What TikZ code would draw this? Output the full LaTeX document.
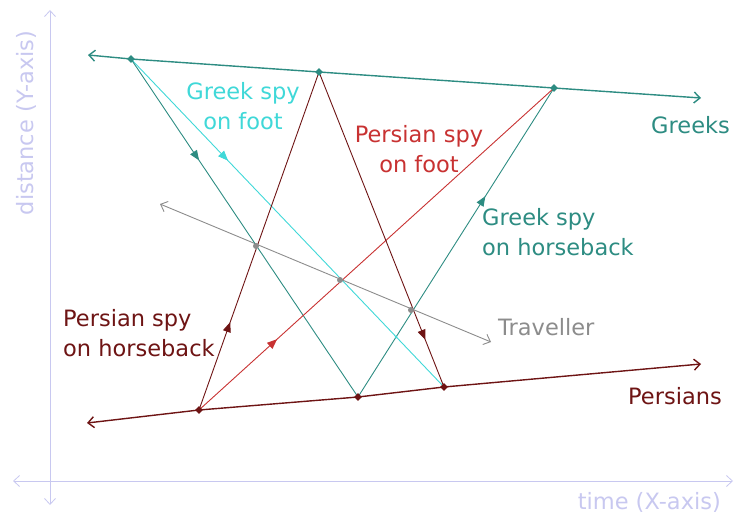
\documentclass[tikz,border=0pt]{standalone}
\usepackage{fontspec}
\setmainfont{DejaVu Sans}
\usetikzlibrary{arrows.meta,decorations.markings,shapes.geometric}
\definecolor{axisc}{RGB}{200,200,240}
\definecolor{greekc}{RGB}{45,140,130}
\definecolor{cyanc}{RGB}{64,216,216}
\definecolor{pfootc}{RGB}{200,50,50}
\definecolor{darkredc}{RGB}{110,20,20}
\definecolor{grayc}{RGB}{140,140,140}
\tikzset{
  barb/.tip={Straight Barb[length=6pt,width=11pt]},
  axisline/.style={draw=axisc,line width=0.8pt,{barb}-{barb}},
  armyline/.style={line width=1.4pt},
  spyline/.style={line width=0.9pt},
  midarrow/.style={postaction={decorate},decoration={markings,
     mark=at position #1 with {\arrow{Triangle[length=10pt,width=8pt]}}}},
  event/.style={diamond,fill,inner sep=0pt,minimum size=8pt},
  crossdot/.style={circle,fill,inner sep=0pt,minimum size=6pt},
  lbl/.style={font=\fontsize{22.5}{30}\selectfont,inner sep=0pt},
}
\begin{document}
\begin{tikzpicture}[x=1pt,y=-1pt]
\useasboundingbox (0,0) rectangle (735,516);
% axes
\coordinate (ytop) at (50,10);
\coordinate (ybot) at (50,505);
\coordinate (xleft) at (13,481);
\coordinate (xright) at (733,481);
\draw[axisline] (ybot) -- (ytop);
\draw[axisline] (xleft) -- (xright);
\node[lbl,text=axisc,rotate=90,anchor=base] (ylab) at (33,123) {distance (Y-axis)};
\node[lbl,text=axisc,anchor=base east] (xlab) at (721,509) {time (X-axis)};
% events
\coordinate (gL) at (88,55);
\coordinate (gR) at (701,98);
\coordinate (pL) at (87,423);
\coordinate (pR) at (701,364);
\coordinate (g1) at (131,59);
\coordinate (g2) at (319,72);
\coordinate (g3) at (554,88);
\coordinate (p1) at (199,410);
\coordinate (p2) at (358,397);
\coordinate (p3) at (444,387);
\coordinate (tL) at (160,204);
\coordinate (tR) at (491,342);
% traveller
\draw[grayc,spyline,{barb}-{barb}] (tL) -- (tR);
% spies
\draw[cyanc,spyline,midarrow=0.31] (g1) -- (p3);
\draw[greekc,spyline,midarrow=0.30] (g1) -- (p2);
\draw[greekc,spyline,midarrow=0.65] (p2) -- (g3);
\draw[pfootc,spyline,midarrow=0.22] (p1) -- (g3);
\draw[darkredc,spyline,midarrow=0.26] (p1) -- (g2);
\draw[darkredc,spyline,midarrow=0.85] (g2) -- (p3);
% armies
\draw[greekc,armyline,{barb}-{barb}] (gL) -- (g1) -- (g2) -- (g3) -- (gR);
\draw[darkredc,armyline,{barb}-{barb}] (pL) -- (p1) -- (p2) -- (p3) -- (pR);
% event markers
\node[event,greekc] (e1) at (g1) {};
\node[event,greekc] (e2) at (g2) {};
\node[event,greekc] (e3) at (g3) {};
\node[event,darkredc] (e4) at (p1) {};
\node[event,darkredc] (e5) at (p2) {};
\node[event,darkredc] (e6) at (p3) {};
\node[crossdot,grayc] (x1) at (256,246) {};
\node[crossdot,grayc] (x2) at (340,280) {};
\node[crossdot,grayc] (x3) at (411,310) {};
\node[crossdot,cyanc,minimum size=3pt] (c1) at (396,337) {};
% labels
\node[lbl,text=cyanc,align=center,anchor=base] (l1) at (243,129) {Greek spy\\on foot};
\node[lbl,text=pfootc,align=center,anchor=base] (l2) at (419,172) {Persian spy\\on foot};
\node[lbl,text=greekc,align=left,anchor=base west] (l3) at (482,255) {Greek spy\\on horseback};
\node[lbl,text=darkredc,align=left,anchor=base west] (l4) at (63,356) {Persian spy\\on horseback};
\node[lbl,text=grayc,anchor=base west] (l5) at (498,335) {Traveller};
\node[lbl,text=greekc,anchor=base west] (l6) at (651,133) {Greeks};
\node[lbl,text=darkredc,anchor=base west] (l7) at (628,404) {Persians};
\end{tikzpicture}
\end{document}
